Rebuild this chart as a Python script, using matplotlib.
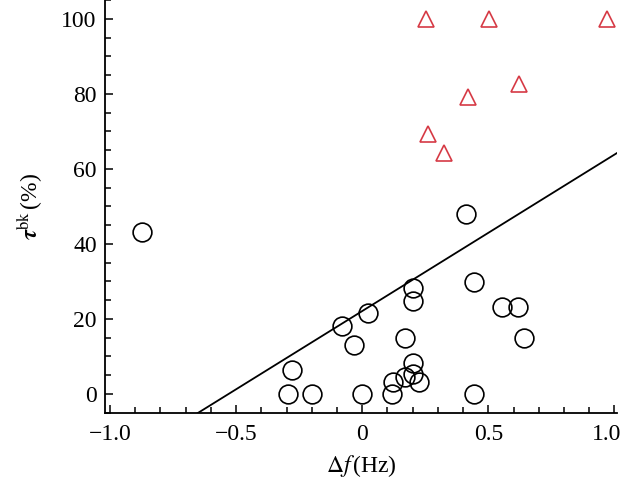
import matplotlib
matplotlib.use("Agg")
import matplotlib.pyplot as plt
from matplotlib.ticker import MultipleLocator, FuncFormatter
import matplotlib.transforms as mtransforms
import numpy as np

# Data
circle_x = [-0.874, 0.410, 0.444, 0.202, 0.202, 0.024, -0.080, -0.032, 0.169,
            0.553, 0.618, 0.642, -0.277, -0.296, -0.198, 0.0, 0.119, 0.444,
            0.123, 0.169, 0.202, 0.202, 0.225]
circle_y = [43.1, 48.0, 29.8, 28.2, 24.8, 21.5, 18.1, 13.1, 14.9,
            23.1, 23.1, 14.9, 6.4, 0.0, 0.0, 0.0, 0.0, 0.0,
            3.3, 4.6, 8.2, 5.3, 3.1]
tri_x = [0.252, 0.502, 0.969, 0.622, 0.419, 0.259, 0.324]
tri_y = [100.0, 100.0, 100.0, 82.7, 79.1, 69.3, 64.3]
fit_intercept = 22.1
fit_slope = 41.7
fit_x = [-0.70, 1.01]
xticks = [-1.0, -0.5, 0.0, 0.5, 1.0]
yticks = [0, 20, 40, 60, 80, 100]

plt.rcParams['font.family'] = ['Liberation Serif', 'DejaVu Serif']
plt.rcParams['mathtext.fontset'] = 'stix'

fig = plt.figure(figsize=(6.24, 4.90), dpi=100)
ax = fig.add_axes([105/624, 1 - 412.7/490, (617-105)/624, 412.7/490])

fx = np.array(fit_x)
ax.plot(fx, fit_intercept + fit_slope * fx, color='black', lw=1.3, zorder=1)
ax.plot(circle_x, circle_y, linestyle='none', marker='o', ms=13.5,
        mfc='none', mec='black', mew=1.2, zorder=2)
ax.plot(tri_x, tri_y, linestyle='none', marker='^', ms=12,
        mfc='none', mec='#d63a45', mew=1.2, zorder=2)

ax.set_xlim(-1.02, 1.01)
ax.set_ylim(-5, 105)
ax.spines['top'].set_visible(False)
ax.spines['right'].set_visible(False)
for s in ('left', 'bottom'):
    ax.spines[s].set_linewidth(1.3)

ax.set_xticks(xticks)
ax.set_yticks(yticks)
ax.xaxis.set_minor_locator(MultipleLocator(0.1))
ax.yaxis.set_minor_locator(MultipleLocator(5))

def xfmt(v, pos):
    if abs(v) < 1e-9:
        return '0'
    return ('\u2212' if v < 0 else '') + f'{abs(v):.1f}'

ax.xaxis.set_major_formatter(FuncFormatter(xfmt))
ax.tick_params(which='major', direction='in', length=6, width=1.1, labelsize=17)
ax.tick_params(which='minor', direction='in', length=4, width=1.1)
ax.tick_params(axis='x', pad=8)
ax.tick_params(axis='y', pad=6)

ax.set_xlabel(r'$\Delta f\,$(Hz)', fontsize=17, labelpad=6)
ax.set_ylabel(r'$\boldsymbol{\tau}^{\rm bk}\,$(%)', fontsize=17, labelpad=12)

fig.canvas.draw()
last = ax.get_xticklabels()[-1]
last.set_transform(last.get_transform() +
                   mtransforms.ScaledTranslation(-8/100, 0, fig.dpi_scale_trans))

fig.savefig('out.png', dpi=100)
